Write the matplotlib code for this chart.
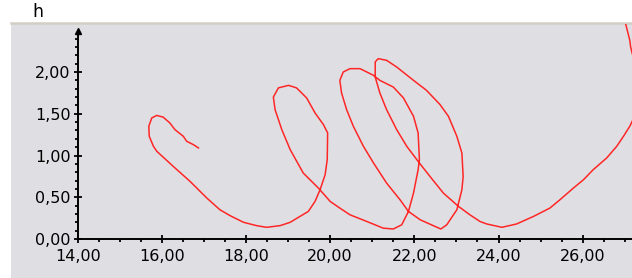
import matplotlib
matplotlib.use("Agg")
import matplotlib.pyplot as plt
from matplotlib.ticker import FuncFormatter, MultipleLocator

# trajectory (x, h), in drawing order
traj_x = [16.87, 16.75, 16.59, 16.51, 16.31, 16.19, 16.03, 15.88, 15.76, 15.69,
          15.70, 15.80, 15.88, 16.27, 16.67, 16.83, 17.07, 17.38, 17.62, 17.94,
          18.25, 18.49, 18.81, 19.05, 19.28, 19.48, 19.64, 19.76, 19.88, 19.93,
          19.94, 19.84, 19.64, 19.44, 19.20, 19.01, 18.77, 18.65, 18.69, 18.85,
          19.05, 19.36, 19.72, 20.00, 20.23, 20.47, 20.87, 21.26, 21.50, 21.70,
          21.86, 21.98, 22.09, 22.12, 22.09, 21.98, 21.74, 21.50, 21.18, 21.03,
          20.71, 20.47, 20.31, 20.23, 20.27, 20.39, 20.55, 20.79, 21.03, 21.34,
          21.66, 21.86, 22.14, 22.45, 22.63, 22.77, 23.01, 23.13, 23.16, 23.13,
          23.01, 22.81, 22.61, 22.29, 21.98, 21.58, 21.34, 21.14, 21.07, 21.07,
          21.18, 21.34, 21.58, 21.82, 22.09, 22.37, 22.69, 23.05, 23.32, 23.56,
          23.72, 24.08, 24.43, 24.83, 25.22, 25.46, 25.78, 26.02, 26.25, 26.57,
          26.81, 26.97, 27.12, 27.36, 27.48, 27.48, 27.36, 27.12, 27.00, 27.06,
          27.12, 27.14, 27.19, 27.36]
traj_h = [1.09, 1.13, 1.17, 1.23, 1.31, 1.39, 1.46, 1.48, 1.45, 1.35,
          1.23, 1.11, 1.05, 0.87, 0.69, 0.61, 0.49, 0.35, 0.28, 0.20,
          0.16, 0.14, 0.16, 0.20, 0.27, 0.33, 0.45, 0.59, 0.77, 0.95,
          1.27, 1.37, 1.51, 1.69, 1.81, 1.84, 1.81, 1.70, 1.55, 1.31,
          1.07, 0.79, 0.61, 0.45, 0.37, 0.29, 0.21, 0.13, 0.12, 0.17,
          0.33, 0.55, 0.83, 0.95, 1.27, 1.47, 1.69, 1.82, 1.90, 1.96,
          2.04, 2.04, 2.00, 1.90, 1.75, 1.55, 1.35, 1.11, 0.91, 0.67,
          0.47, 0.33, 0.23, 0.16, 0.12, 0.17, 0.35, 0.59, 0.75, 1.03,
          1.23, 1.47, 1.61, 1.78, 1.90, 2.06, 2.14, 2.16, 2.12, 1.94,
          1.75, 1.55, 1.31, 1.11, 0.93, 0.75, 0.55, 0.39, 0.29, 0.21,
          0.18, 0.14, 0.18, 0.27, 0.37, 0.47, 0.61, 0.71, 0.83, 0.97,
          1.11, 1.23, 1.35, 1.60, 1.90, 2.26, 2.56, 2.68, 2.62, 2.50,
          2.38, 2.30, 2.20, 2.02]

x_ticks = [14, 16, 18, 20, 22, 24, 26]
y_ticks = [0.0, 0.5, 1.0, 1.5, 2.0]
y_label = "h"

W, H = 632, 278
fig = plt.figure(figsize=(W / 100, H / 100), dpi=100)
fig.patch.set_facecolor("white")

# grey panel with a darker top border (background axes)
bg = fig.add_axes([11 / W, 0, (W - 11) / W, (H - 23) / H], zorder=-5)
bg.set_facecolor("#dfdfe3")
bg.set_xticks([])
bg.set_yticks([])
for s in ["left", "right", "bottom"]:
    bg.spines[s].set_visible(False)
bg.spines["top"].set_color("#d2cec6")
bg.spines["top"].set_linewidth(1.8)

x0px, y0px = 77.7, 239.0
pxx, pxy = 42.08, 83.5
ax = fig.add_axes([x0px / W, (H - y0px) / H, (W - x0px) / W, (y0px - 24) / H], zorder=1)
ax.set_facecolor("none")
ax.set_xlim(14, 14 + (W - x0px) / pxx)
ax.set_ylim(0, (y0px - 24) / pxy)

ax.plot(traj_x, traj_h, color="#ff2626", lw=1.1, solid_joinstyle="round")

for s in ["top", "right"]:
    ax.spines[s].set_visible(False)
ax.spines["left"].set_bounds(0, (y0px - 31) / pxy)
ax.spines["left"].set_linewidth(1.4)
ax.spines["bottom"].set_linewidth(1.4)
ax.plot([14], [(y0px - 31) / pxy], marker="^", color="black", ms=4.5, clip_on=False)

fmt = FuncFormatter(lambda v, p: f"{v:.2f}".replace(".", ","))
ax.set_xticks(x_ticks)
ax.set_yticks(y_ticks)
ax.xaxis.set_major_formatter(fmt)
ax.yaxis.set_major_formatter(fmt)
ax.xaxis.set_minor_locator(MultipleLocator(0.5))
ax.set_yticks([v / 10 for v in range(0, 25)], minor=True)
ax.tick_params(axis="both", which="major", direction="inout", length=6, width=1.3,
               labelsize=11.5, colors="black")
ax.tick_params(axis="both", which="minor", direction="out", length=2.5, width=1.3)
ax.tick_params(axis="x", which="major", pad=4.5)
ax.tick_params(axis="y", which="major", pad=2)

fig.text(38 / W, 1 - 12 / H, y_label, fontsize=12.5, ha="center", va="center")

fig.savefig("out.png", dpi=100)
